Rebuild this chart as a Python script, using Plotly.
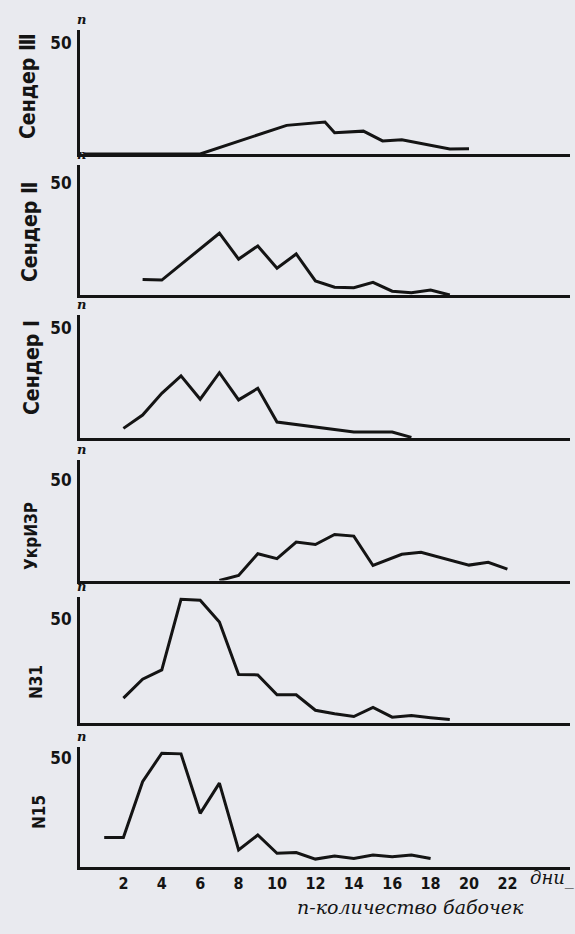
import plotly.graph_objects as go

W, H = 575, 934

# ---------------- data ----------------
panel_names = ["Сендер Ⅲ", "Сендер Ⅱ", "Сендер Ⅰ", "УкрИЗР", "N31", "N15"]

days_sender3 = [0, 6, 10.5, 12.5, 13, 14.5, 15.5, 16.5, 19, 20]
vals_sender3 = [0, 0, 12.9, 14.4, 9.6, 10.3, 5.9, 6.4, 2.3, 2.4]

days_sender2 = [3, 4, 7, 8, 9, 10, 11, 12, 13, 14, 15, 16, 17, 18, 19]
vals_sender2 = [7.0, 6.7, 27.7, 16.1, 22.0, 12.0, 18.4, 6.3, 3.5, 3.3, 5.7, 1.7, 1.0, 2.2, 0]

days_sender1 = [2, 3, 4, 5, 6, 7, 8, 9, 10, 14, 16, 17]
vals_sender1 = [4.4, 10.5, 20.4, 28.4, 17.7, 29.8, 17.4, 22.7, 7.3, 2.7, 2.7, 0.3]

days_ukrizr = [7, 8, 9, 10, 11, 12, 13, 14, 15, 16.5, 17.5, 20, 21, 22]
vals_ukrizr = [0, 2.5, 13.4, 10.9, 19.2, 18.0, 23.0, 22.2, 7.5, 13.1, 14.1, 7.7, 9.1, 5.7]

days_n31 = [2, 3, 4, 5, 6, 7, 8, 9, 10, 11, 12, 13, 14, 15, 16, 17, 18, 19]
vals_n31 = [11.8, 20.9, 25.4, 59.5, 59.1, 48.5, 23.2, 23.0, 13.4, 13.4, 5.9, 4.2, 2.9, 7.3, 2.6, 3.4, 2.3, 1.4]

days_n15 = [1, 2, 3, 4, 5, 6, 7, 8, 9, 10, 11, 12, 13, 14, 15, 16, 17, 18]
vals_n15 = [13.5, 13.5, 39.2, 52.3, 52.0, 24.6, 38.5, 7.7, 14.6, 6.2, 6.5, 3.5, 4.9, 3.8, 5.4, 4.6, 5.4, 3.8]

x_tick_vals = [2, 4, 6, 8, 10, 12, 14, 16, 18, 20, 22]
x_tick_text = ["2", "4", "6", "8", "10", "12", "14", "16", "18", "20", "22"]
y_tick_vals = [50]
y_tick_text = ["50"]

x_unit_label = "дни_"
bottom_caption = "n-количество бабочек"
axis_letter = "n"

series = [
    (days_sender3, vals_sender3),
    (days_sender2, vals_sender2),
    (days_sender1, vals_sender1),
    (days_ukrizr, vals_ukrizr),
    (days_n31, vals_n31),
    (days_n15, vals_n15),
]

# ---------------- layout geometry (pixels) ----------------
baselines = [154, 295, 438, 580.5, 722.5, 866.7]
tops = [30, 165, 315, 460, 597, 746.7]
px_per_unit = [2.22, 2.23, 2.19, 2.0, 2.07, 2.17]
label_pos = [(28, 86), (30, 232), (32, 368), (31, 536), (36, 682), (39, 812)]
label_size = [21, 21, 21, 17, 17, 17]

X0_PX, X1_PX = 80, 570
DAY0_PX, PX_PER_DAY = 85, 19.2
x_range = [(X0_PX - DAY0_PX) / PX_PER_DAY, (X1_PX - DAY0_PX) / PX_PER_DAY]

BG = "#e9eaef"
INK = "#141414"
NUM_FONT = "Liberation Sans Narrow, DejaVu Sans Condensed, DejaVu Sans, sans-serif"
LBL_FONT = "DejaVu Sans Condensed, DejaVu Sans, sans-serif"
ITAL_FONT = "DejaVu Serif, Liberation Serif, serif"

fig = go.Figure()
layout = dict(
    width=W, height=H,
    margin=dict(l=0, r=0, t=0, b=0),
    paper_bgcolor=BG, plot_bgcolor=BG,
    showlegend=False,
)
annotations = []

for i, ((xs, ys), name) in enumerate(zip(series, panel_names)):
    k = i + 1
    xa = "xaxis" if k == 1 else f"xaxis{k}"
    ya = "yaxis" if k == 1 else f"yaxis{k}"
    xref = "x" if k == 1 else f"x{k}"
    yref = "y" if k == 1 else f"y{k}"
    fig.add_trace(go.Scatter(
        x=xs, y=ys, mode="lines", xaxis=xref, yaxis=yref,
        line=dict(color=INK, width=3), hoverinfo="skip",
    ))
    b, t, s = baselines[i], tops[i], px_per_unit[i]
    last = (i == len(series) - 1)
    layout[xa] = dict(
        domain=[X0_PX / W, X1_PX / W], range=x_range, anchor=yref,
        showline=True, linewidth=3, linecolor=INK, mirror=False,
        showgrid=False, zeroline=False, ticks="",
        tickvals=x_tick_vals, ticktext=x_tick_text,
        showticklabels=last,
        tickfont=dict(family=NUM_FONT, size=16, color=INK, weight="bold"),
    )
    layout[ya] = dict(
        domain=[1 - b / H, 1 - t / H], range=[0, (b - t) / s], anchor=xref,
        showline=True, linewidth=3, linecolor=INK,
        showgrid=False, zeroline=False, ticks="",
        tickvals=y_tick_vals, ticktext=y_tick_text,
        tickfont=dict(family=NUM_FONT, size=17, color=INK, weight="bold"),
        ticklabelstandoff=2,
    )
    lx, ly = label_pos[i]
    annotations.append(dict(
        xref="paper", yref="paper", x=lx / W, y=1 - ly / H,
        text=f"<b>{name}</b>",
        textangle=-90, showarrow=False, xanchor="center", yanchor="middle",
        font=dict(family=LBL_FONT, size=label_size[i], color=INK),
    ))
    annotations.append(dict(
        xref="paper", yref="paper", x=(X0_PX + 1) / W, y=1 - (t - 1) / H,
        text=f"<i><b>{axis_letter}</b></i>", showarrow=False,
        xanchor="center", yanchor="bottom",
        font=dict(family=ITAL_FONT, size=13, color=INK),
    ))

annotations.append(dict(
    xref="paper", yref="paper", x=552 / W, y=1 - 878 / H,
    text=f"<i>{x_unit_label}</i>", showarrow=False, xanchor="center", yanchor="middle",
    font=dict(family=ITAL_FONT, size=18, color=INK),
))
annotations.append(dict(
    xref="paper", yref="paper", x=410 / W, y=1 - 907 / H,
    text=f"<i>{bottom_caption}</i>", showarrow=False, xanchor="center", yanchor="middle",
    font=dict(family=ITAL_FONT, size=19, color=INK),
))

layout["annotations"] = annotations
fig.update_layout(**layout)
fig.write_html(
    "out.html",
    config={"displayModeBar": False},
    post_script=f"document.body.style.margin='0';document.body.style.background='{BG}';",
)
